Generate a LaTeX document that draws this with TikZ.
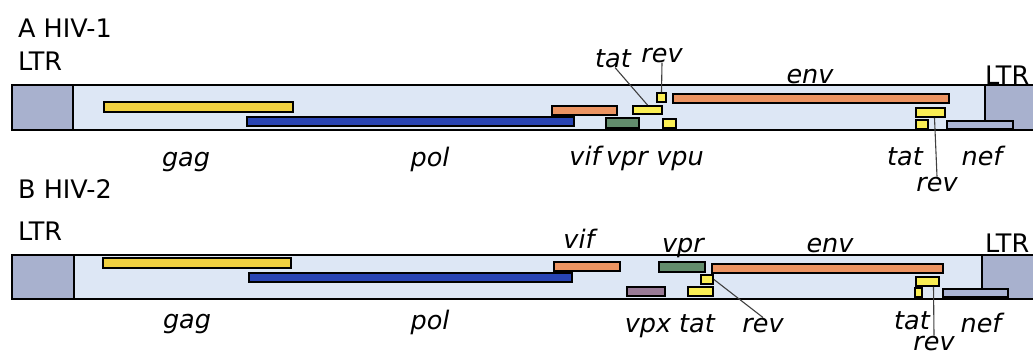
\documentclass[tikz,border=0pt]{standalone}
\usepackage{fontspec}
\setmainfont{DejaVu Sans}
\usepackage{xcolor}
\usetikzlibrary{positioning}
\definecolor{bodyblue}{RGB}{221,231,245}
\definecolor{ltrgrey}{RGB}{168,177,206}
\definecolor{gagyellow}{RGB}{240,208,64}
\definecolor{polblue}{RGB}{40,68,180}
\definecolor{envorange}{RGB}{236,148,98}
\definecolor{vprgreen}{RGB}{98,140,108}
\definecolor{tatyellow}{RGB}{250,238,84}
\definecolor{nefgrey}{RGB}{170,180,212}
\definecolor{vpxpurple}{RGB}{152,122,150}
\tikzset{
genome/.style={fill=bodyblue, draw=black, line width=2pt},
ltrbox/.style={fill=ltrgrey, draw=black, line width=2pt},
gene/.style={rectangle, draw=black, line width=1.9pt, inner sep=0pt},
lbl/.style={font=\fontsize{25.5}{28}\selectfont\itshape, inner sep=0pt, anchor=base},
ttl/.style={font=\fontsize{25.5}{28}\selectfont, inner sep=0pt, anchor=base west},
lead/.style={draw=black!75, line width=1.1pt}
}
\newcommand{\gn}[6]{\node[gene, fill=#2, minimum width={(#5-#3)*1pt}, minimum height={(#6-#4)*1pt}] (#1) at ({(#3+#5)/2},{(#4+#6)/2}) {};}

\begin{document}
\begin{tikzpicture}[x=1pt, y=-1pt]
\useasboundingbox (0,0) rectangle (1033,356);

% A HIV-1
\node[ttl] (titleA) at (18,37) {A HIV-1};
\node[ttl] (ltrAl) at (18,70) {LTR};
\node[ttl] (ltrAr) at (985,84) {LTR};
\draw[genome] (12,85) rectangle (1045,130);
\draw[ltrbox] (12,85) rectangle (73,130);
\draw[ltrbox] (985,85) rectangle (1045,130);
\gn{gagA}{gagyellow}{104}{102}{293}{112}
\gn{polA}{polblue}{247}{117}{574}{126}
\gn{vifA}{envorange}{552}{106}{617}{115}
\gn{vprA}{vprgreen}{606}{118}{639}{128}
\gn{tatA}{tatyellow}{633}{106}{662}{114}
\gn{revA}{tatyellow}{657}{93}{666}{102}
\gn{vpuA}{tatyellow}{663}{119}{676}{128}
\gn{envA}{envorange}{673}{94}{949}{103}
\gn{tatxA}{tatyellow}{916}{108}{945}{117}
\gn{revxA}{tatyellow}{916}{120}{928}{129}
\gn{nefA}{nefgrey}{947}{121}{1013}{129}

\node[lbl] (tatAl) at (613,67) {tat};
\node[lbl] (revAl) at (662,62) {rev};
\node[lbl] (envAl) at (810,83) {env};
\node[lbl] (gagAl) at (186,166) {gag};
\node[lbl] (polAl) at (430,166) {pol};
\node[lbl] (vifAl) at (585,165) {vif};
\node[lbl] (vprAl) at (627,165) {vpr};
\node[lbl] (vpuAl) at (680,165) {vpu};
\node[lbl] (tatxAl) at (905,165) {tat};
\node[lbl] (nefAl) at (982,165) {nef};
\node[lbl] (revxAl) at (937,191) {rev};
\draw[lead] ([xshift=2pt]tatAl.south) -- (tatA.north);
\draw[lead] (revAl.south) -- (revA.north);
\draw[lead] ([xshift=4pt]tatxA.south) -- (revxAl.north);

% B HIV-2
\node[ttl] (titleB) at (18,198) {B HIV-2};
\node[ttl] (ltrBl) at (18,240) {LTR};
\node[ttl] (ltrBr) at (985,252) {LTR};
\draw[genome] (12,255) rectangle (1045,299);
\draw[ltrbox] (12,255) rectangle (74,299);
\draw[ltrbox] (982,255) rectangle (1045,299);
\gn{gagB}{gagyellow}{103}{258}{291}{268}
\gn{polB}{polblue}{249}{273}{572}{282}
\gn{vifB}{envorange}{554}{262}{620}{271}
\gn{vpxB}{vpxpurple}{627}{287}{665}{296}
\gn{vprB}{vprgreen}{659}{262}{705}{272}
\gn{revB}{tatyellow}{701}{275}{713}{284}
\gn{tatB}{tatyellow}{688}{287}{713}{296}
\gn{envB}{envorange}{712}{264}{943}{273}
\gn{tatxB}{tatyellow}{916}{277}{939}{286}
\gn{revxB}{tatyellow}{915}{288}{922}{297}
\gn{nefB}{nefgrey}{943}{289}{1008}{297}

\node[lbl] (vifBl) at (579,248) {vif};
\node[lbl] (vprBl) at (683,252) {vpr};
\node[lbl] (envBl) at (830,252) {env};
\node[lbl] (gagBl) at (187,328) {gag};
\node[lbl] (polBl) at (430,329) {pol};
\node[lbl] (vpxBl) at (648,332) {vpx};
\node[lbl] (tatBl) at (697,332) {tat};
\node[lbl] (revBl) at (763,332) {rev};
\node[lbl] (tatxBl) at (912,329) {tat};
\node[lbl] (nefBl) at (981,332) {nef};
\node[lbl] (revxBl) at (934,350) {rev};
\draw[lead] (revB.east) -- (revBl.north);
\draw[lead] ([xshift=6pt]tatxB.south) -- (revxBl.north);
\end{tikzpicture}
\end{document}
